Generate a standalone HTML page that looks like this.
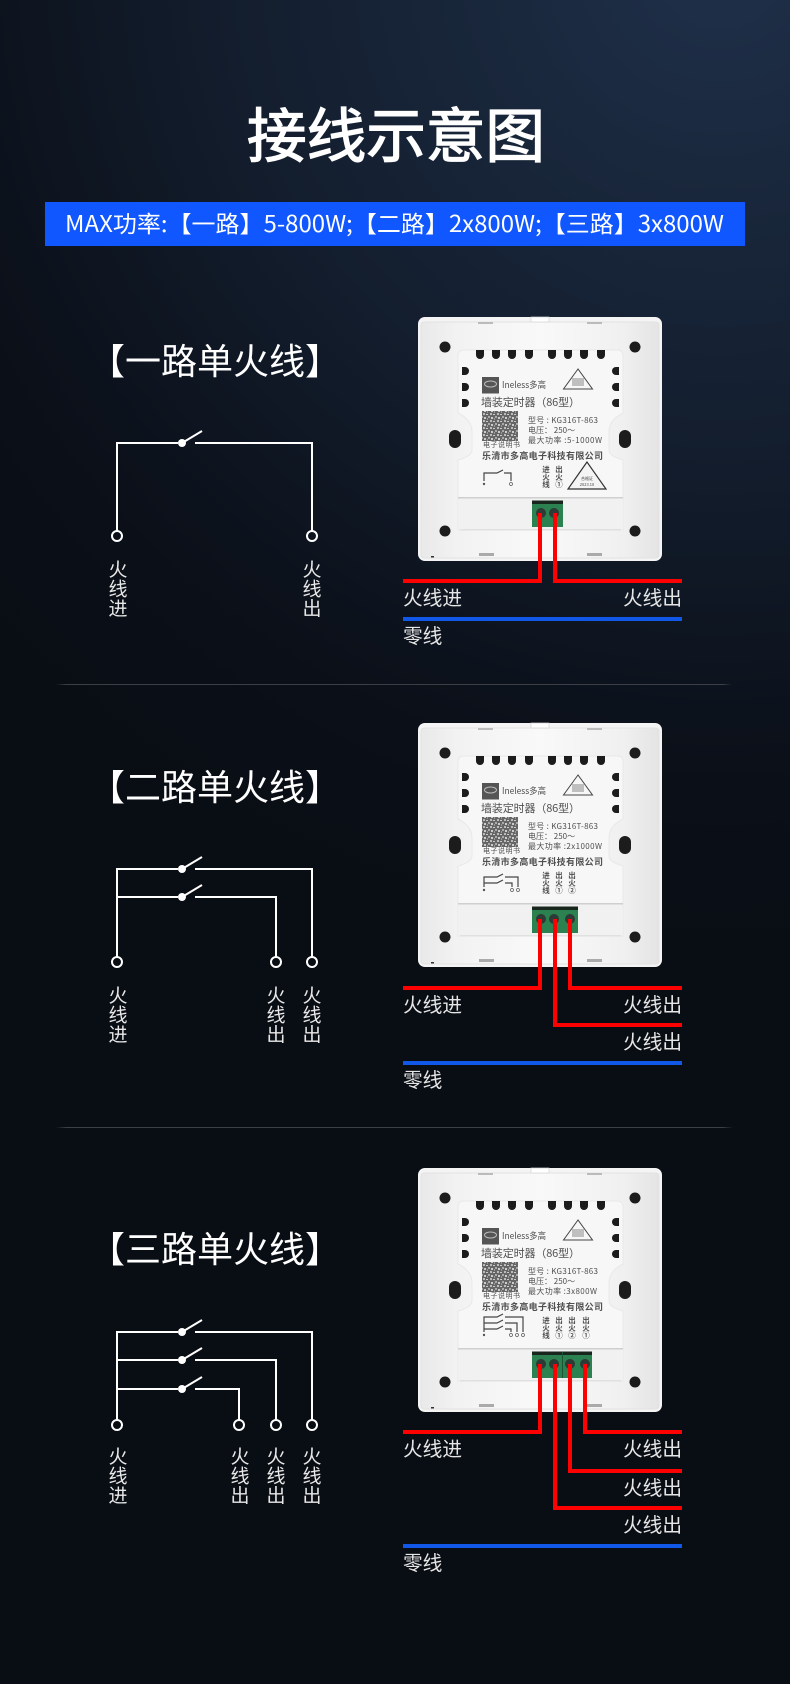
<!DOCTYPE html>
<html><head><meta charset="utf-8">
<style>
html,body{margin:0;padding:0;background:#090d14}
svg{display:block}
text{font-family:"Liberation Sans","Noto Sans CJK SC",sans-serif}
.c{font-family:"Noto Sans CJK SC","Liberation Sans",sans-serif}
.h{font-size:36px;fill:#fff}
.v{font-size:19px;fill:#e8e8e8;text-anchor:middle}
.l{font-size:19.700px;fill:#e6e6e6}
.d{fill:#505050}
.sw{stroke:#fff;stroke-width:2;fill:none}
.sm{stroke:#444;stroke-width:1.200;fill:none}
</style></head>
<body>
<svg width="790" height="1684" viewBox="0 0 790 1684" xmlns="http://www.w3.org/2000/svg">
<defs>
<radialGradient id="bg" gradientUnits="userSpaceOnUse" cx="720" cy="-40" r="1000">
<stop offset="0" stop-color="#1f3049"/><stop offset=".45" stop-color="#141f30"/><stop offset=".8" stop-color="#0b1019"/><stop offset="1" stop-color="#090d14"/>
</radialGradient>
<linearGradient id="sepg" x1="0" x2="1" y1="0" y2="0"><stop offset="0" stop-color="#0a0e15"/><stop offset=".015" stop-color="#3c3f45"/><stop offset=".985" stop-color="#3c3f45"/><stop offset="1" stop-color="#0a0e15"/></linearGradient>
<linearGradient id="plate" x1="0" x2="1" y1="0" y2="0"><stop offset="0" stop-color="#e9e9e9"/><stop offset=".15" stop-color="#f2f2f2"/><stop offset=".5" stop-color="#f9f9f9"/><stop offset=".85" stop-color="#f0f0f0"/><stop offset="1" stop-color="#e4e4e4"/></linearGradient>
<filter id="soft" x="-5%" y="-5%" width="110%" height="110%"><feGaussianBlur stdDeviation=".3"/></filter>
<pattern id="qr" width="7" height="7" patternUnits="userSpaceOnUse">
<rect width="7" height="7" fill="#666"/><rect x="0" y="0" width="2" height="2" fill="#bbb"/><rect x="3" y="1" width="2" height="1" fill="#ccc"/><rect x="5" y="3" width="2" height="2" fill="#aaa"/><rect x="1" y="4" width="2" height="2" fill="#ccc"/><rect x="4" y="5" width="1" height="2" fill="#999"/>
</pattern>
<g id="dev">
<rect x="418" y="317" width="244" height="244" rx="7" fill="#f4f4f4"/>
<rect x="421" y="322" width="238" height="236" rx="3" fill="url(#plate)" stroke="#e2e2e2" stroke-width="1"/>
<rect x="531" y="317" width="18" height="5" fill="#fff" stroke="#d4d4d4" stroke-width=".7"/>
<rect x="478" y="322" width="15" height="2" fill="#bbb"/><rect x="587" y="322" width="15" height="2" fill="#bbb"/>
<rect x="479" y="553" width="15" height="3" fill="#aaa"/><rect x="587" y="553" width="15" height="3" fill="#aaa"/>
<rect x="431" y="556" width="3" height="1.500" fill="#333"/>
<path d="M464 350H617Q623 350 623 356V413Q609 420 609 432V450Q609 456 623 460V530H458V460Q472 456 472 450V432Q472 420 458 413V356Q458 350 464 350Z" fill="#f7f7f7" stroke="#e8e8e8" stroke-width="1"/>
<rect x="459" y="498" width="163" height="32" fill="#f1f1f1"/>
<rect x="458" y="497" width="165" height="1.500" fill="#cfcfcf"/>
<rect x="460" y="529" width="161" height="1.500" fill="#e0e0e0"/>
<g fill="#1a1a1c">
<circle cx="445" cy="347" r="5.500"/><circle cx="635" cy="347" r="5.500"/><circle cx="445" cy="531" r="5.500"/><circle cx="635" cy="531" r="5.500"/>
<rect x="449" y="430" width="12" height="18" rx="6"/><rect x="619" y="430" width="12" height="18" rx="6"/>
<path d="M476 350h8v5a4 4 0 0 1-8 0z"/>
<path d="M492 350h8v5a4 4 0 0 1-8 0z"/><path d="M508 350h8v5a4 4 0 0 1-8 0z"/><path d="M525 350h8v5a4 4 0 0 1-8 0z"/>
<path d="M548 350h8v5a4 4 0 0 1-8 0z"/><path d="M564 350h8v5a4 4 0 0 1-8 0z"/><path d="M580 350h8v5a4 4 0 0 1-8 0z"/><path d="M597 350h8v5a4 4 0 0 1-8 0z"/>
<path d="M462 367h3a4 4 0 0 1 0 8h-3z"/><path d="M462 383h3a4 4 0 0 1 0 8h-3z"/><path d="M462 399h3a4 4 0 0 1 0 8h-3z"/>
<path d="M619 367h-3a4 4 0 0 0 0 8h3z"/><path d="M619 383h-3a4 4 0 0 0 0 8h3z"/><path d="M619 399h-3a4 4 0 0 0 0 8h3z"/>
</g>
<rect x="482" y="377" width="17" height="16.500" fill="#555"/>
<ellipse cx="490.500" cy="384" rx="6" ry="3" fill="none" stroke="#bbb" stroke-width="1"/>
<rect x="482" y="411" width="36" height="30" fill="url(#qr)"/>
<path d="M578 369L563.500 389H592.500Z" fill="none" stroke="#444" stroke-width="1"/>
<rect x="572" y="378" width="12" height="8" fill="#888" opacity=".5"/>
</g>
</defs>

<rect width="790" height="1684" fill="#090d14"/>
<rect width="790" height="1000" fill="url(#bg)"/>

<text class="c" x="396" y="157" font-size="59" fill="#fff" stroke="#fff" stroke-width="1.300" text-anchor="middle" textLength="298" lengthAdjust="spacingAndGlyphs">接线示意图</text>
<rect x="45" y="202" width="700" height="44" fill="#1157ff"/>
<text class="c" x="65" y="232" font-size="23" fill="#fff" textLength="659" lengthAdjust="spacingAndGlyphs">MAX功率:【一路】5-800W;【二路】2x800W;【三路】3x800W</text>

<rect x="56" y="684" width="677" height="1" fill="url(#sepg)"/>
<rect x="56" y="1127" width="677" height="1" fill="url(#sepg)"/>

<!-- Section 1 schematic -->
<text class="c h" x="89" y="374">【一路单火线】</text>
<g class="sw">
<path d="M117 531V443H178M195 443H312V531"/><path d="M182 443L202 431"/>
<circle cx="117" cy="536" r="5"/><circle cx="312" cy="536" r="5"/>
</g>
<circle cx="182" cy="443" r="4" fill="#fff"/>
<text class="c v" x="118" y="576">火<tspan x="118" dy="19.500">线</tspan><tspan x="118" dy="19.500">进</tspan></text>
<text class="c v" x="312" y="576">火<tspan x="312" dy="19.500">线</tspan><tspan x="312" dy="19.500">出</tspan></text>

<!-- Section 2 schematic -->
<text class="c h" x="89" y="800">【二路单火线】</text>
<g class="sw">
<path d="M117 957V869H178M195 869H312V957"/><path d="M182 869L202 857"/>
<path d="M117 897H178M195 897H276V957"/><path d="M182 897L202 885"/>
<circle cx="117" cy="962" r="5"/><circle cx="276" cy="962" r="5"/><circle cx="312" cy="962" r="5"/>
</g>
<circle cx="182" cy="869" r="4" fill="#fff"/><circle cx="182" cy="897" r="4" fill="#fff"/>
<text class="c v" x="118" y="1002">火<tspan x="118" dy="19.500">线</tspan><tspan x="118" dy="19.500">进</tspan></text>
<text class="c v" x="276" y="1002">火<tspan x="276" dy="19.500">线</tspan><tspan x="276" dy="19.500">出</tspan></text>
<text class="c v" x="312" y="1002">火<tspan x="312" dy="19.500">线</tspan><tspan x="312" dy="19.500">出</tspan></text>

<!-- Section 3 schematic -->
<text class="c h" x="89" y="1262">【三路单火线】</text>
<g class="sw">
<path d="M117 1420V1332H178M195 1332H312V1420"/><path d="M182 1332L202 1320"/>
<path d="M117 1360H178M195 1360H276V1420"/><path d="M182 1360L202 1348"/>
<path d="M117 1389H178M195 1389H239V1420"/><path d="M182 1389L202 1377"/>
<circle cx="117" cy="1425" r="5"/><circle cx="239" cy="1425" r="5"/><circle cx="276" cy="1425" r="5"/><circle cx="312" cy="1425" r="5"/>
</g>
<circle cx="182" cy="1332" r="4" fill="#fff"/><circle cx="182" cy="1360" r="4" fill="#fff"/><circle cx="182" cy="1389" r="4" fill="#fff"/>
<text class="c v" x="118" y="1463">火<tspan x="118" dy="19.500">线</tspan><tspan x="118" dy="19.500">进</tspan></text>
<text class="c v" x="240" y="1463">火<tspan x="240" dy="19.500">线</tspan><tspan x="240" dy="19.500">出</tspan></text>
<text class="c v" x="276" y="1463">火<tspan x="276" dy="19.500">线</tspan><tspan x="276" dy="19.500">出</tspan></text>
<text class="c v" x="312" y="1463">火<tspan x="312" dy="19.500">线</tspan><tspan x="312" dy="19.500">出</tspan></text>

<!-- Device 1 -->
<g>
<g filter="url(#soft)">
<use href="#dev"/>
<text class="c d" x="502" y="388" font-size="9" textLength="44" lengthAdjust="spacingAndGlyphs">Ineless多高</text>
<text class="c d" x="481" y="406" font-size="11" textLength="99">墙装定时器（86型）</text>
<text class="c d" x="483" y="447" font-size="7" textLength="37">电子说明书</text>
<text class="c d" x="528" y="423" font-size="8" textLength="70">型号 : KG316T-863</text>
<text class="c d" x="528" y="433" font-size="8">电压： 250～</text>
<text class="c d" x="528" y="443" font-size="8" textLength="74">最大功率 :5-1000W</text>
<text class="c d" x="482" y="459" font-size="9" font-weight="700" textLength="121">乐清市多高电子科技有限公司</text>
<g class="c d" font-size="7.500" font-weight="700" text-anchor="middle">
<text x="546" y="472">进<tspan x="546" dy="7.500">火</tspan><tspan x="546" dy="7.500">线</tspan></text>
<text x="559" y="472">出<tspan x="559" dy="7.500">火</tspan><tspan x="559" dy="7.500">①</tspan></text>
</g>
<path d="M587 462L568 489H606Z" fill="#f4f4f4" stroke="#333" stroke-width="1.200"/>
<text class="c" x="587" y="480" font-size="4" fill="#444" text-anchor="middle">合格证</text>
<text class="c" x="587" y="486" font-size="4" fill="#444" text-anchor="middle">2023.10</text>
<path class="sm" d="M484 481V473H497L503 470M504 473H511V481"/>
<circle cx="484" cy="484" r="1.200" fill="#555"/><circle cx="511" cy="484" r="1.500" fill="none" stroke="#555" stroke-width=".7"/>
</g>
<rect x="532" y="501" width="31" height="26" fill="#2b8150"/><rect x="532" y="500.500" width="31" height="3.500" fill="#18261d"/>
<circle cx="541" cy="513" r="5" fill="#2d3a35"/><circle cx="554" cy="513" r="5" fill="#2d3a35"/>
</g>
<path d="M403 581H540V513M682 581H555V513" fill="none" stroke="#fe0000" stroke-width="4"/>
<text class="c l" x="403" y="605">火线进</text><text class="c l" x="623" y="605">火线出</text>
<rect x="403" y="617" width="279" height="4" fill="#1157e8"/>
<text class="c l" x="403" y="643">零线</text>

<!-- Device 2 -->
<g transform="translate(0 406)">
<g filter="url(#soft)">
<use href="#dev"/>
<text class="c d" x="502" y="388" font-size="9" textLength="44" lengthAdjust="spacingAndGlyphs">Ineless多高</text>
<text class="c d" x="481" y="406" font-size="11" textLength="99">墙装定时器（86型）</text>
<text class="c d" x="483" y="447" font-size="7" textLength="37">电子说明书</text>
<text class="c d" x="528" y="423" font-size="8" textLength="70">型号 : KG316T-863</text>
<text class="c d" x="528" y="433" font-size="8">电压： 250～</text>
<text class="c d" x="528" y="443" font-size="8" textLength="74">最大功率 :2x1000W</text>
<text class="c d" x="482" y="459" font-size="9" font-weight="700" textLength="121">乐清市多高电子科技有限公司</text>
<g class="c d" font-size="7.500" font-weight="700" text-anchor="middle">
<text x="546" y="472">进<tspan x="546" dy="7.500">火</tspan><tspan x="546" dy="7.500">线</tspan></text>
<text x="559" y="472">出<tspan x="559" dy="7.500">火</tspan><tspan x="559" dy="7.500">①</tspan></text>
<text x="572" y="472">出<tspan x="572" dy="7.500">火</tspan><tspan x="572" dy="7.500">②</tspan></text>
</g>
<path class="sm" d="M484 481V471H497L503 468M484 477H497L503 474M505 471H518V481M505 477H512V481"/>
<circle cx="484" cy="484" r="1.200" fill="#555"/><circle cx="512" cy="484" r="1.500" fill="none" stroke="#555" stroke-width=".7"/><circle cx="518" cy="484" r="1.500" fill="none" stroke="#555" stroke-width=".7"/>
</g>
<rect x="532" y="501" width="46" height="26" fill="#2b8150"/><rect x="532" y="500.500" width="46" height="3.500" fill="#18261d"/>
<circle cx="541" cy="513" r="5" fill="#2d3a35"/><circle cx="554" cy="513" r="5" fill="#2d3a35"/><circle cx="570" cy="513" r="5" fill="#2d3a35"/>
</g>
<path d="M403 988H540V919M682 988H570V919M682 1025H555V919" fill="none" stroke="#fe0000" stroke-width="4"/>
<text class="c l" x="403" y="1012">火线进</text><text class="c l" x="623" y="1012">火线出</text><text class="c l" x="623" y="1049">火线出</text>
<rect x="403" y="1061" width="279" height="4" fill="#1157e8"/>
<text class="c l" x="403" y="1087">零线</text>

<!-- Device 3 -->
<g transform="translate(0 851)">
<g filter="url(#soft)">
<use href="#dev"/>
<text class="c d" x="502" y="388" font-size="9" textLength="44" lengthAdjust="spacingAndGlyphs">Ineless多高</text>
<text class="c d" x="481" y="406" font-size="11" textLength="99">墙装定时器（86型）</text>
<text class="c d" x="483" y="447" font-size="7" textLength="37">电子说明书</text>
<text class="c d" x="528" y="423" font-size="8" textLength="70">型号 : KG316T-863</text>
<text class="c d" x="528" y="433" font-size="8">电压： 250～</text>
<text class="c d" x="528" y="443" font-size="8" textLength="69">最大功率 :3x800W</text>
<text class="c d" x="482" y="459" font-size="9" font-weight="700" textLength="121">乐清市多高电子科技有限公司</text>
<g class="c d" font-size="7.500" font-weight="700" text-anchor="middle">
<text x="546" y="472">进<tspan x="546" dy="7.500">火</tspan><tspan x="546" dy="7.500">线</tspan></text>
<text x="559" y="472">出<tspan x="559" dy="7.500">火</tspan><tspan x="559" dy="7.500">①</tspan></text>
<text x="572" y="472">出<tspan x="572" dy="7.500">火</tspan><tspan x="572" dy="7.500">②</tspan></text>
<text x="586" y="472">出<tspan x="586" dy="7.500">火</tspan><tspan x="586" dy="7.500">①</tspan></text>
</g>
<path class="sm" d="M484 481V466H497L503 463M484 472H497L503 469M484 478H497L503 475M505 466H523V481M505 472H517V481M505 478H511V481"/>
<circle cx="484" cy="484" r="1.200" fill="#555"/><circle cx="511" cy="484" r="1.500" fill="none" stroke="#555" stroke-width=".7"/><circle cx="517" cy="484" r="1.500" fill="none" stroke="#555" stroke-width=".7"/><circle cx="523" cy="484" r="1.500" fill="none" stroke="#555" stroke-width=".7"/>
</g>
<rect x="532" y="501" width="60" height="26" fill="#2b8150"/><rect x="532" y="500.500" width="60" height="3.500" fill="#18261d"/>
<rect x="562" y="501" width="1" height="26" fill="#1c5535"/>
<circle cx="541" cy="513" r="5" fill="#2d3a35"/><circle cx="554" cy="513" r="5" fill="#2d3a35"/><circle cx="570" cy="513" r="5" fill="#2d3a35"/><circle cx="585" cy="513" r="5" fill="#2d3a35"/>
</g>
<path d="M403 1432H540V1364M682 1432H585V1364M682 1471H570V1364M682 1508H555V1364" fill="none" stroke="#fe0000" stroke-width="4"/>
<text class="c l" x="403" y="1456">火线进</text><text class="c l" x="623" y="1456">火线出</text><text class="c l" x="623" y="1495">火线出</text><text class="c l" x="623" y="1532">火线出</text>
<rect x="403" y="1544" width="279" height="4" fill="#1157e8"/>
<text class="c l" x="403" y="1570">零线</text>
</svg>
</body></html>
